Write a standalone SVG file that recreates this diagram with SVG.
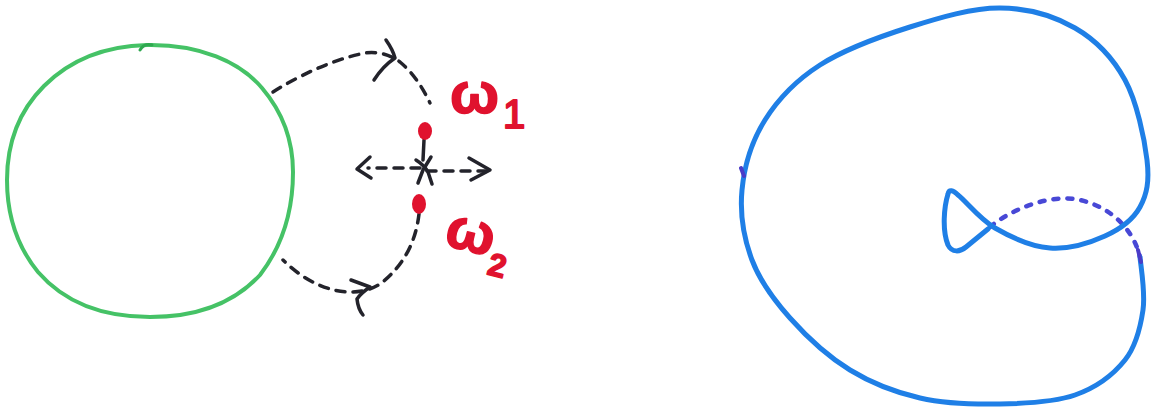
<svg xmlns="http://www.w3.org/2000/svg" width="1153" height="410" viewBox="0 0 1153 410">
  <style>
    .ink { fill: none; stroke: #23232b; stroke-width: 3.5; stroke-linecap: round; stroke-linejoin: round; }
    .dash { stroke-dasharray: 9 8; }
    .red { fill: #e0122e; }
    .lbl { fill: #e0122e; stroke: #e0122e; stroke-width: 1.5; stroke-linejoin: round; font-family: "Liberation Sans", Arial, sans-serif; font-weight: bold; }
    .blue { fill: none; stroke: #1f7fe6; stroke-width: 5; stroke-linecap: round; stroke-linejoin: round; }
  </style>
  <rect width="1153" height="410" fill="#ffffff"/>

  <g id="green-loop">
    <path d="M147,45 C200,44 240,62 262,88 C285,115 293,145 293,172 C293,210 283,245 260,275 C235,302 198,317 150,317 C102,317 64,302 38,272 C16,245 7,212 7,180 C7,145 18,112 44,86 C70,60 105,46 147,45 Z" fill="none" stroke="#45c266" stroke-width="4"/>
    <path d="M140,50 Q144,43 152,45" fill="none" stroke="#2fa850" stroke-width="3" stroke-linecap="round"/>
  </g>

  <g id="connectors">
    <path class="ink dash" d="M273,92 C295,78 330,60 365,53 C380,51 392,56 400,62 C412,72 422,86 430,103"/>
    <path class="ink" d="M386,40 Q393,50 395,58 Q383,66 374,80"/>
    <path class="ink dash" d="M419,214 C416,240 405,265 380,284 C355,300 315,292 283,260"/>
    <path class="ink" d="M351,280 L370,287 Q361,293 357,299 Q358,309 363,315"/>
    <path class="ink dash" d="M420,168 L368,168" stroke-dasharray="7 7"/>
    <path class="ink" d="M370,157 L357,169 L371,178"/>
    <path class="ink dash" d="M427,171 L486,171" stroke-dasharray="9 5"/>
    <path class="ink" d="M469,158 L490,170 L471,180"/>
    <path class="ink" d="M424,140 L423,160"/>
  </g>

  <g id="center-cross">
    <path class="ink" d="M416,160 Q424,165 428,172 L432,184"/>
    <path class="ink" d="M431,157 L423,170 L418,183"/>
  </g>

  <g id="omega-1">
    <ellipse class="red" cx="425" cy="131" rx="7" ry="9"/>
    <text class="lbl" x="450" y="113" font-size="58">ω<tspan font-size="40" font-weight="normal" stroke-width="2" dx="4" dy="15">1</tspan></text>
  </g>

  <g id="omega-2">
    <ellipse class="red" cx="419" cy="204" rx="7" ry="10"/>
    <text class="lbl" x="446" y="251" font-size="58" transform="rotate(14 470 235)">ω<tspan font-size="32" dx="0" dy="18">2</tspan></text>
  </g>

  <g id="knot">
    <path d="M990,227 C1010,210 1050,193 1080,200 C1110,207 1133,228 1140,257" fill="none" stroke="#4848d6" stroke-width="4.5" stroke-linecap="round" stroke-dasharray="5 9"/>
    <path class="blue" d="M1140,257 C1141,268 1145.5,293 1143,310 C1140.5,327 1136.3,345.8 1125,360 C1113.7,374.2 1095.8,387.7 1075,395 C1054.2,402.3 1025.8,403.5 1000,404 C974.2,404.5 945,403.7 920,398 C895,392.3 871.7,383.3 850,370 C828.3,356.7 806.3,336.3 790,318 C773.7,299.7 760,281.3 752,260 C744,238.7 739.8,213.3 742,190 C744.2,166.7 752,140.8 765,120 C778,99.2 795.8,80.5 820,65 C844.2,49.5 880,36.5 910,27 C940,17.5 972.5,7.8 1000,8 C1027.5,8.2 1054.2,16 1075,28 C1095.8,40 1113,58 1125,80 C1137,102 1144.5,138.8 1147,160 C1149.5,181.2 1147,194.3 1140,207 C1133,219.7 1120,229.2 1105,236 C1090,242.8 1068.3,249.3 1050,248 C1031.7,246.7 1010.3,236.8 995,228 C979.7,219.2 965.7,200.8 958,195 C953,190 949,189 948,194 C944,207 942,230 948,245 C952,253 960,252 966,247 L988,229"/>
    <path d="M741,168 L744,176 M1138,250 L1141,262" stroke="#4a3cc8" stroke-width="4" stroke-linecap="round"/>
  </g>
</svg>
